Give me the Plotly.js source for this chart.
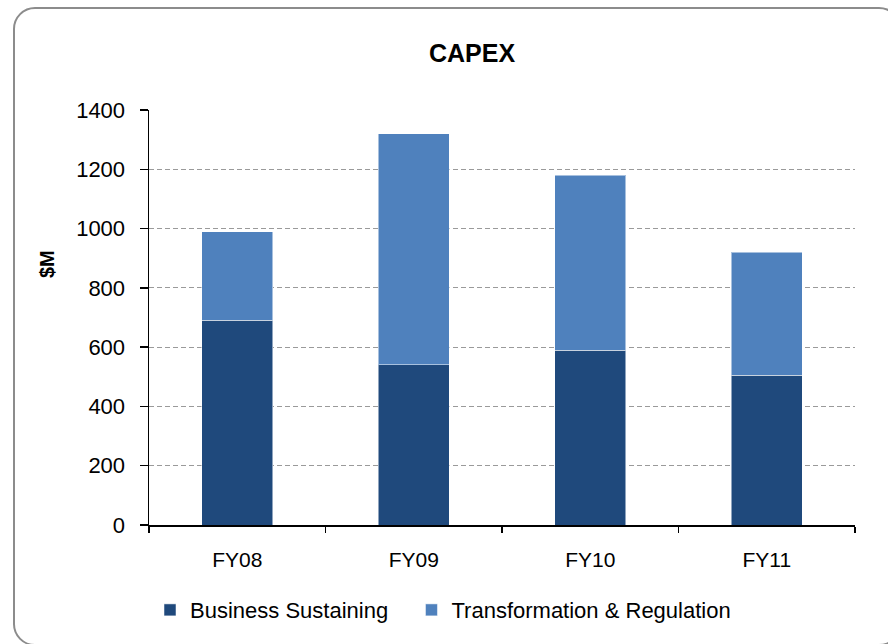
<!DOCTYPE html>
<html>
<head>
<meta charset="utf-8">
<script src="https://cdn.plot.ly/plotly-3.0.1.min.js"></script>
<style>
  html, body { margin:0; padding:0; background:#fff; overflow:hidden; }
  #frame { position:absolute; left:13px; top:7px; width:888px; height:639px;
           border:2px solid #8c8c8c; border-radius:22px; box-sizing:border-box; }
  #chart { position:absolute; left:0; top:0; width:888px; height:644px; }
</style>
</head>
<body>
<div id="frame"></div>
<div id="chart"></div>
<script>
const categories = ['FY08', 'FY09', 'FY10', 'FY11'];
const businessSustaining = [690, 540, 590, 505];
const transformationRegulation = [300, 780, 590, 415];
const yTickValues = [0, 200, 400, 600, 800, 1000, 1200, 1400];
const seriesNames = ['Business Sustaining', 'Transformation & Regulation'];

const font = 'Liberation Sans, Arial, sans-serif';
const nbsp = '\u00a0';

const traces = [
  {
    type: 'bar', name: seriesNames[0] + nbsp.repeat(3),
    x: categories, y: businessSustaining,
    marker: { color: '#1F497C', line: { color: 'rgba(255,255,255,0.5)', width: 1 } },
    hovertemplate: '%{x}: %{y}<extra>' + seriesNames[0] + '</extra>'
  },
  {
    type: 'bar', name: seriesNames[1],
    x: categories, y: transformationRegulation,
    marker: { color: '#4F81BD', line: { color: 'rgba(255,255,255,0.5)', width: 1 } },
    hovertemplate: '%{x}: %{y}<extra>' + seriesNames[1] + '</extra>'
  }
];

const layout = {
  width: 888, height: 644,
  paper_bgcolor: 'rgba(0,0,0,0)', plot_bgcolor: 'rgba(0,0,0,0)',
  margin: { l: 149, r: 33, t: 110, b: 119 },
  barmode: 'stack', bargap: 0.6,
  font: { family: font, color: '#000' },
  title: {
    text: '<b>CAPEX</b>', font: { size: 25, family: font, color: '#000' },
    xref: 'container', x: 472 / 888, xanchor: 'center',
    yref: 'container', y: 1 - 53 / 644, yanchor: 'middle'
  },
  xaxis: {
    type: 'category', showline: true, linecolor: '#000', linewidth: 1.5,
    ticks: 'outside', tickson: 'boundaries', ticklen: 6, tickwidth: 1.5, tickcolor: '#000',
    tickfont: { size: 21, family: font, color: '#000' },
    ticklabelstandoff: 15,
    showgrid: false, zeroline: false
  },
  yaxis: {
    range: [0, 1400], tickvals: yTickValues,
    showline: true, linecolor: '#000', linewidth: 1.5,
    ticks: 'outside', ticklen: 8, tickwidth: 1.5, tickcolor: '#000',
    tickfont: { size: 22, family: font, color: '#000' },
    ticklabelstandoff: 10,
    showgrid: true, gridcolor: '#9a9a9a', gridwidth: 1, griddash: '5px,3px',
    zeroline: false
  },
  legend: {
    orientation: 'h', x: (150 - 149) / 706, xanchor: 'left', y: -0.205, yanchor: 'middle',
    font: { size: 22, family: font, color: '#000' },
    traceorder: 'normal', bgcolor: 'rgba(0,0,0,0)'
  },
  annotations: [{
    text: '<b>$M</b>', textangle: -90, showarrow: false,
    xref: 'paper', yref: 'paper', x: (47 - 149) / 706, y: (525 - 264) / 415,
    xanchor: 'center', yanchor: 'middle',
    font: { size: 20, family: font, color: '#000' }
  }]
};

Plotly.newPlot('chart', traces, layout, { displayModeBar: false, staticPlot: true });
</script>
</body>
</html>
